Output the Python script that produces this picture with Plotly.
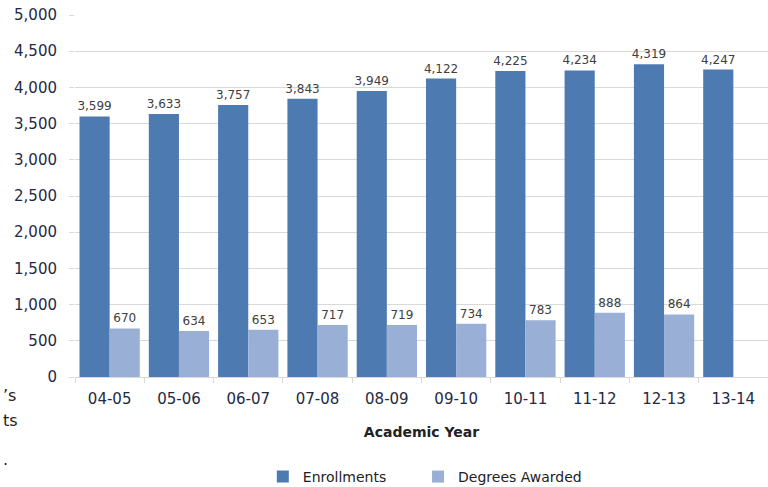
import plotly.graph_objects as go

years = ["04-05", "05-06", "06-07", "07-08", "08-09", "09-10", "10-11", "11-12", "12-13", "13-14"]
enrollments = [3599, 3633, 3757, 3843, 3949, 4122, 4225, 4234, 4319, 4247]
degrees = [670, 634, 653, 717, 719, 734, 783, 888, 864, None]
y_ticks = list(range(0, 5001, 500))

font_main = "DejaVu Sans"
grid = "#d9d9d9"

fig = go.Figure()
fig.add_trace(go.Bar(x=years, y=enrollments, name="Enrollments",
                     marker=dict(color="#4d7ab0", line=dict(width=0)),
                     text=[f"{v:,}" for v in enrollments], textposition="outside",
                     textfont=dict(size=12, color="#404040", family=font_main),
                     constraintext="none", cliponaxis=False, legend="legend"))
fig.add_trace(go.Bar(x=years, y=degrees, name="Degrees Awarded",
                     marker=dict(color="#9aafd5", line=dict(width=0)),
                     text=[f"{v:,}" if v is not None else "" for v in degrees], textposition="outside",
                     textfont=dict(size=12, color="#404040", family=font_main),
                     constraintext="none", cliponaxis=False, legend="legend2"))

leg = dict(orientation="h", xanchor="left", y=-0.232, yanchor="top",
           font=dict(size=14, color="#222222"), itemwidth=30)

fig.update_layout(
    width=768, height=487,
    barmode="group", bargap=0.13, bargroupgap=0,
    plot_bgcolor="white", paper_bgcolor="white",
    font=dict(family=font_main, color="#1f2a44"),
    margin=dict(l=75, r=0, t=15, b=110, autoexpand=False),
    showlegend=True,
    legend=dict(leg, x=0.271),
    legend2=dict(leg, x=0.495),
)
fig.update_yaxes(range=[0, 5000], tickvals=y_ticks, tickformat=",d",
                 showgrid=True, gridcolor=grid, gridwidth=1,
                 tickfont=dict(size=15, color="#1f2a44"), ticks="outside", ticklen=5,
                 tickcolor=grid, zeroline=False, showline=False, ticklabelstandoff=9,
                 ticklabeloverflow="allow")
fig.update_xaxes(type="category", tickfont=dict(size=15, color="#1f2a44"), showline=True,
                 linecolor=grid, ticks="outside", tickson="boundaries",
                 tickcolor=grid, ticklen=5, ticklabelstandoff=8, ticklabeloverflow="allow",
                 title=dict(text="<b>Academic Year</b>", font=dict(size=14, color="#222222"), standoff=20))

# fragments of neighbouring text at the left edge
for txt, yy in [("’s", 395), ("ts", 421), (".", 460)]:
    fig.add_annotation(text=txt, xref="paper", yref="paper", x=-74 / 693, xanchor="left",
                       y=1 - (yy - 15) / 362, yanchor="middle", showarrow=False,
                       font=dict(size=16, color="#222222"))

# drop the browser's default body margin so the figure fills the window
fig.write_html("out.html", config={"displayModeBar": False},
               post_script="document.body.style.margin='0';")
